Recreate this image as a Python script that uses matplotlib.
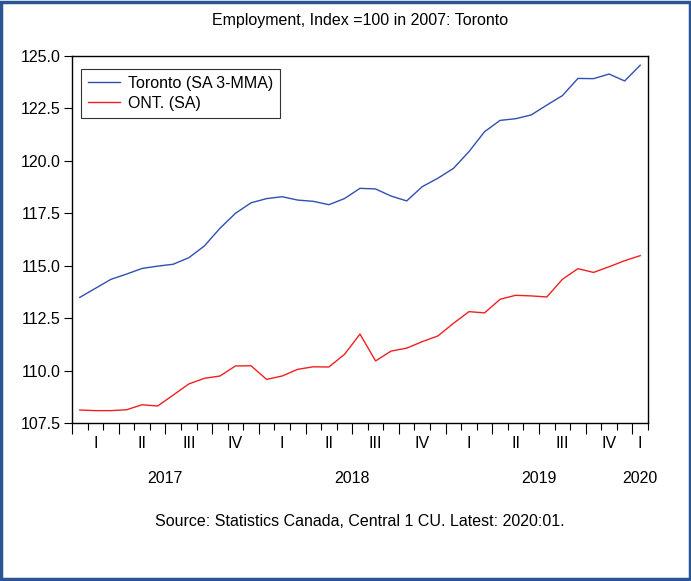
import numpy as np
import matplotlib
matplotlib.use('Agg')
import matplotlib.pyplot as plt
from matplotlib.patches import Rectangle

plt.rcParams['font.family'] = ['Liberation Sans', 'DejaVu Sans']

# monthly, Jan 2017 .. Jan 2020
toronto = [113.49, 113.92, 114.35, 114.60, 114.87, 114.98, 115.07, 115.38, 115.94, 116.78,
           117.50, 118.00, 118.20, 118.29, 118.13, 118.07, 117.91, 118.20, 118.69, 118.66,
           118.32, 118.09, 118.77, 119.17, 119.64, 120.44, 121.39, 121.93, 122.01, 122.19,
           122.66, 123.11, 123.93, 123.92, 124.14, 123.81, 124.56]
ont = [108.12, 108.09, 108.09, 108.13, 108.37, 108.31, 108.83, 109.36, 109.63, 109.74,
       110.22, 110.23, 109.58, 109.74, 110.06, 110.18, 110.17, 110.77, 111.74, 110.46,
       110.93, 111.07, 111.38, 111.65, 112.25, 112.81, 112.75, 113.40, 113.59, 113.56,
       113.51, 114.35, 114.86, 114.68, 114.95, 115.24, 115.48]
quarter_labels = ['I', 'II', 'III', 'IV'] * 3 + ['I']
year_labels = ['2017', '2018', '2019', '2020']
yticks = [107.5, 110.0, 112.5, 115.0, 117.5, 120.0, 122.5, 125.0]

x = np.arange(len(toronto))
fs = 11.5

fig = plt.figure(figsize=(6.91, 5.81), dpi=100)
ax = fig.add_axes([72/691, 1 - 423/581, 576/691, 367/581])

ax.plot(x, toronto, color='#3050b0', lw=1.0, label='Toronto (SA 3-MMA)')
ax.plot(x, ont, color='#f02020', lw=1.0, label='ONT. (SA)')

ax.set_xlim(-0.5, len(x) - 0.5)
ax.set_ylim(107.5, 125.0)
ax.set_yticks(yticks)
ax.set_yticklabels(['%.1f' % v for v in yticks], fontsize=fs)
ax.tick_params(axis='y', length=6, width=0.8, pad=2)

# month boundaries as minor ticks, quarter boundaries as major
ax.set_xticks(np.arange(-0.5, len(x), 3))
ax.set_xticks(np.arange(-0.5, len(x), 1), minor=True)
ax.set_xticklabels([])
ax.tick_params(axis='x', which='major', length=8, width=0.8)
ax.tick_params(axis='x', which='minor', length=5, width=0.8)

qpos = [1 + 3 * i for i in range(12)] + [36]
for p, lab in zip(qpos, quarter_labels):
    ax.text(p, -0.056, lab, transform=ax.get_xaxis_transform(), ha='center', va='center', fontsize=fs)
ypos = [5.5, 17.5, 29.5, 36]
for p, lab in zip(ypos, year_labels):
    ax.text(p, -0.15, lab, transform=ax.get_xaxis_transform(), ha='center', va='center', fontsize=fs)

for s in ax.spines.values():
    s.set_linewidth(1.0)

leg = ax.legend(loc='upper left', fontsize=fs, frameon=True, fancybox=False,
                edgecolor='black', borderpad=0.45, handlelength=2.0, handletextpad=0.5,
                labelspacing=0.3, borderaxespad=0, bbox_to_anchor=(0.015, 0.965))
leg.get_frame().set_linewidth(0.8)

fig.text(360/691, 1 - 20/581, 'Employment, Index =100 in 2007: Toronto', ha='center', va='center', fontsize=fs)
fig.text(360/691, 1 - 521/581, 'Source: Statistics Canada, Central 1 CU. Latest: 2020:01.', ha='center', va='center', fontsize=fs)

fig.patches.append(Rectangle((0.002, 0.003), 0.996, 0.994, transform=fig.transFigure,
                             fill=False, edgecolor='#2b5592', lw=2.5))

fig.savefig('out.png', dpi=100)
